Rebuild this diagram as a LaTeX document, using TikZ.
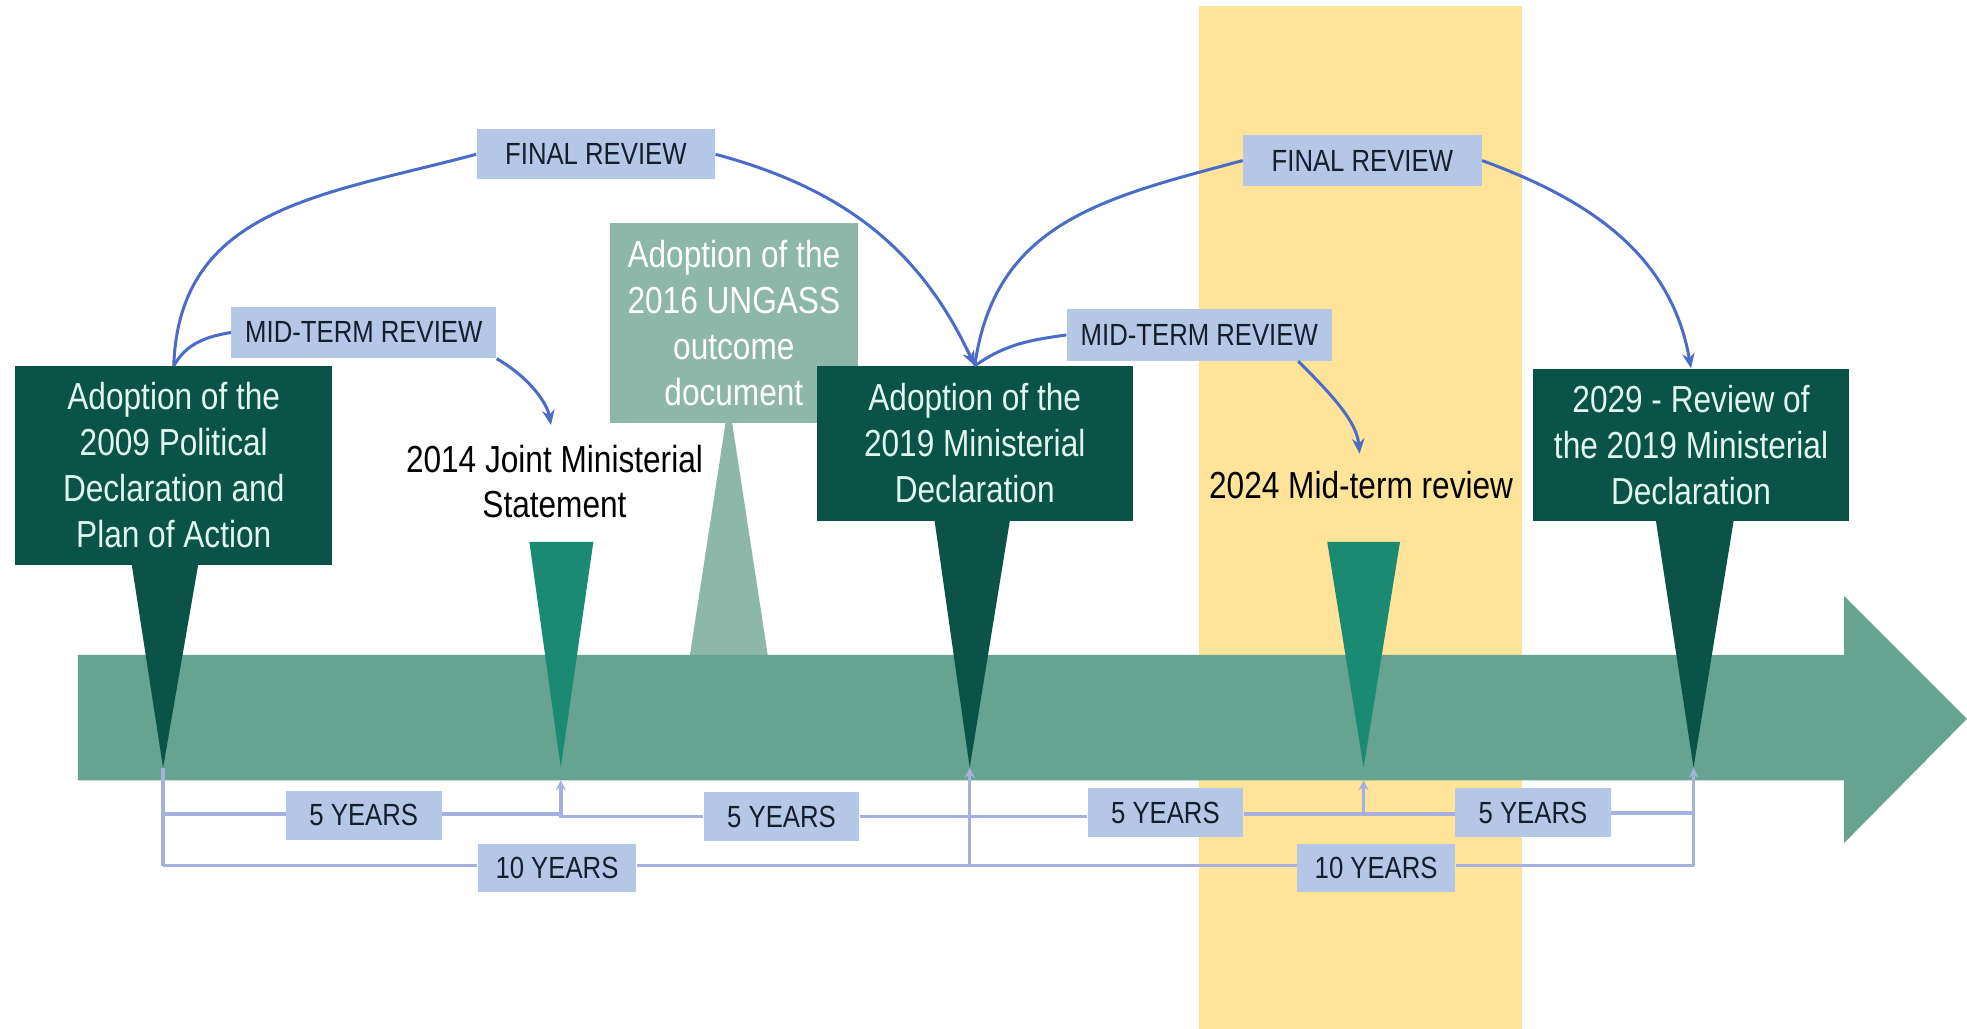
\documentclass[tikz,border=0pt]{standalone}
\usepackage{fontspec}
\setmainfont{Liberation Sans}[FakeStretch=0.84]
\usetikzlibrary{arrows.meta}
\definecolor{band}{RGB}{254,227,153}
\definecolor{arrowc}{RGB}{102,163,144}
\definecolor{dark}{RGB}{11,83,71}
\definecolor{mid}{RGB}{26,138,114}
\definecolor{ungass}{RGB}{141,183,168}
\definecolor{tagfill}{RGB}{180,199,231}
\definecolor{tagtxt}{RGB}{20,30,45}
\definecolor{boxtxt}{RGB}{225,246,238}
\definecolor{brk}{RGB}{165,176,224}
\definecolor{curve}{RGB}{74,108,200}
\begin{document}
\begin{tikzpicture}[x=0.5pt,y=0.5pt,
  evbox/.style={fill=dark, text=boxtxt, align=center, font=\fontsize{15}{18.3}\selectfont, inner sep=0pt},
  tag/.style={fill=tagfill, text=tagtxt, font=\fontsize{12.2}{14}\selectfont, inner sep=0pt},
  plain/.style={text=black, align=center, font=\fontsize{15}{18}\selectfont, inner sep=0pt},
  rv/.style={draw=curve, line width=1.2pt},
  rva/.style={rv, -{Stealth[length=6pt,width=5pt]}},
  br/.style={draw=brk, line width=1.4pt},
  bra/.style={br, -{Stealth[length=4pt,width=4pt]}}
]
\useasboundingbox (0,0) rectangle (1568,820);
% background band
\fill[band] (956,0) rectangle (1213,815);
% UNGASS triangle
\fill[ungass] (550,298) -- (612,298) -- (581,500) -- cycle;
% timeline arrow
\fill[arrowc] (62,198) -- (1470,198) -- (1470,148) -- (1568,247) -- (1470,345) -- (1470,298) -- (62,298) -- cycle;
% pins
\fill[dark] (105,370) -- (158,370) -- (130,208) -- cycle;
\fill[mid] (422,388) -- (473,388) -- (447,208) -- cycle;
\fill[dark] (745,405) -- (805,405) -- (773,208) -- cycle;
\fill[mid] (1058,388) -- (1116,388) -- (1087,208) -- cycle;
\fill[dark] (1320,405) -- (1382,405) -- (1350,208) -- cycle;
% event boxes
\node[evbox, minimum width=126.5pt, minimum height=79pt] (e2009) at (138.5,449) {Adoption of the\\2009 Political\\Declaration and\\Plan of Action};
\node[evbox, fill=ungass, text=white, minimum width=99pt, minimum height=79.5pt] (e2016) at (585,562.5) {Adoption of the\\2016 UNGASS\\outcome\\document};
\node[evbox, minimum width=126pt, minimum height=61.5pt] (e2019) at (777,466.5) {Adoption of the\\2019 Ministerial\\Declaration};
\node[evbox, minimum width=126pt, minimum height=60.5pt] (e2029) at (1348,465.5) {2029 - Review of\\the 2019 Ministerial\\Declaration};
\node[plain] (e2014) at (442,436) {2014 Joint Ministerial\\Statement};
\node[plain] (e2024) at (1085,433) {2024 Mid-term review};
% review tags
\node[tag, minimum width=95pt, minimum height=20pt] (fr1) at (475,697) {FINAL REVIEW};
\node[tag, minimum width=105.5pt, minimum height=20.5pt] (mt1) at (290,555) {MID-TERM REVIEW};
\node[tag, minimum width=95pt, minimum height=20pt] (fr2) at (1086,692) {FINAL REVIEW};
\node[tag, minimum width=105.5pt, minimum height=20.5pt] (mt2) at (956,553) {MID-TERM REVIEW};
% review curves
\draw[rv] (e2009.north) to[out=88,in=195,looseness=1.1] (fr1.west);
\draw[rva] (fr1.east) to[out=-15,in=115] (e2019.north);
\draw[rv] (e2009.north) to[out=60,in=190] (mt1.west);
\draw[rva, shorten >=8pt] (mt1.south east) to[out=-30,in=100] (e2014.north);
\draw[rv] (e2019.north) to[out=82,in=195,looseness=1.1] (fr2.west);
\draw[rva] (fr2.east) to[out=-20,in=100] (e2029.north);
\draw[rv] (e2019.north) to[out=35,in=188] (mt2.west);
\draw[rva, shorten >=7pt] ([xshift=-13.5pt]mt2.south east) to[out=-45,in=95] (e2024.north);
% year tags
\node[tag, minimum width=62pt, minimum height=19.5pt] (y5a) at (290,170) {5 YEARS};
\node[tag, minimum width=62pt, minimum height=19.5pt] (y5b) at (623,169) {5 YEARS};
\node[tag, minimum width=62pt, minimum height=19.5pt] (y5c) at (929,172) {5 YEARS};
\node[tag, minimum width=62pt, minimum height=19.5pt] (y5d) at (1222,172) {5 YEARS};
\node[tag, minimum width=63pt, minimum height=19pt] (y10a) at (444,128) {10 YEARS};
\node[tag, minimum width=63pt, minimum height=19pt] (y10b) at (1097,128) {10 YEARS};
% bracket points
\coordinate (t2009) at (130,208);
\coordinate (t2014) at (447,198);
\coordinate (t2019) at (773,208);
\coordinate (t2024) at (1087,198);
\coordinate (t2029) at (1350,208);
\coordinate (c5a) at (130,171);
\coordinate (c10a) at (130,130);
\coordinate (c5b) at (447,169);
\coordinate (c5c) at (773,169);
\coordinate (c10b) at (773,130);
\coordinate (c5d) at (1087,171);
\coordinate (c5e) at (1350,172);
\coordinate (c10c) at (1350,130);
% brackets
\draw[br] (c10a) -- (t2009);
\draw[br] (c5a) -- (c5a -| y5a.west);
\draw[br] (y5a.east |- c5a) -- (c5a -| c5b) -- (c5b) -- (y5b.west);
\draw[br] (y5b.east) -- (c5c) -- (c5c -| y5c.west);
\draw[br] (y5c.east |- c5d) -- (c5d) -- (y5d.west |- c5d);
\draw[br] (y5d.east |- c5e) -- (c5e);
\draw[br] (c10a) -- (c10a -| y10a.west);
\draw[br] (y10a.east |- c10b) -- (c10b) -- (c10b -| y10b.west);
\draw[br] (y10b.east |- c10c) -- (c10c);
\draw[bra] (c5b) -- (t2014);
\draw[bra] (c10b) -- (t2019);
\draw[bra] (c5d) -- (t2024);
\draw[bra] (c10c) -- (t2029);
\end{tikzpicture}
\end{document}
